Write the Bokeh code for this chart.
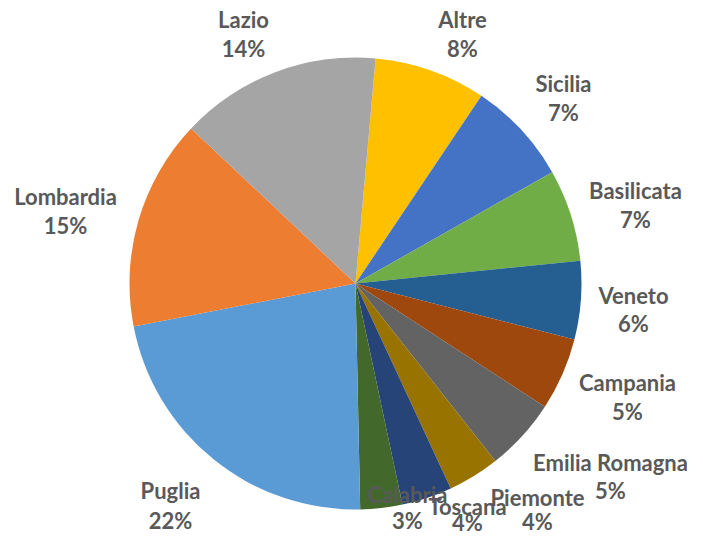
import math
from bokeh.plotting import figure
from bokeh.models import ColumnDataSource, Range1d
from bokeh.core.properties import value
from bokeh.embed import file_html
from bokeh.resources import INLINE

# ---- data (clockwise from the top) ----
regions = ["Altre", "Sicilia", "Basilicata", "Veneto", "Campania", "Emilia Romagna",
           "Piemonte", "Toscana", "Calabria", "Puglia", "Lombardia", "Lazio"]
shares = [8.0, 7.4, 6.6, 5.6, 5.2, 5.2, 3.7, 3.6, 3.0, 22.3, 15.1, 14.4]
colors = ["#FFC000", "#4472C4", "#70AD47", "#255E91", "#9E480E", "#636363",
          "#997300", "#264478", "#43682B", "#5B9BD5", "#ED7D31", "#A5A5A5"]

# ---- layout (pixels, from the top-left corner) ----
W, H = 687, 536
CX, CY, R = 355, 283, 226
START_DEG = 5.1
# label anchor (centre of the region name) and gap to the percentage line
label_xy = [(462, 19), (563, 83), (635, 190), (633, 295), (627, 382), (610, 462),
            (537, 497), (467, 506), (407, 494), (170, 490), (65, 196), (243, 19)]
gaps = [29, 29, 29, 28, 29, 28, 24, 16, 26, 30, 29, 29]

total = sum(shares)
starts, ends = [], []
acc = START_DEG
for s in shares:
    a0 = acc
    a1 = acc + s / total * 360.0
    # clockwise-from-north -> bokeh counter-clockwise-from-east
    starts.append(math.radians(90 - a1))
    ends.append(math.radians(90 - a0))
    acc = a1

src = ColumnDataSource(dict(x=[CX] * len(shares), y=[-CY] * len(shares),
                            start=starts, end=ends, color=colors))

p = figure(width=W, height=H, output_backend="svg", toolbar_location=None,
           x_range=Range1d(0, W), y_range=Range1d(-H, 0), min_border=0)
p.axis.visible = False
p.grid.visible = False
p.outline_line_color = None
p.background_fill_color = "white"
p.border_fill_color = "white"

p.wedge(x="x", y="y", radius=R, radius_units="data", start_angle="start",
        end_angle="end", direction="anticlock", fill_color="color",
        line_color=None, source=src)

pct = ["%d%%" % round(s / total * 100) for s in shares]
lab = ColumnDataSource(dict(
    x=[xy[0] for xy in label_xy],
    y=[-xy[1] for xy in label_xy],
    y2=[-(xy[1] + g) for xy, g in zip(label_xy, gaps)],
    name=regions, pct=pct))

for col, ycol in (("name", "y"), ("pct", "y2")):
    p.text(x="x", y=ycol, text=col, source=lab, text_align="center",
           text_baseline="middle", text_font=value("Lato"),
           text_font_style="bold", text_font_size="22px", text_color="#595959")

open("out.html", "w").write(file_html(p, INLINE))
